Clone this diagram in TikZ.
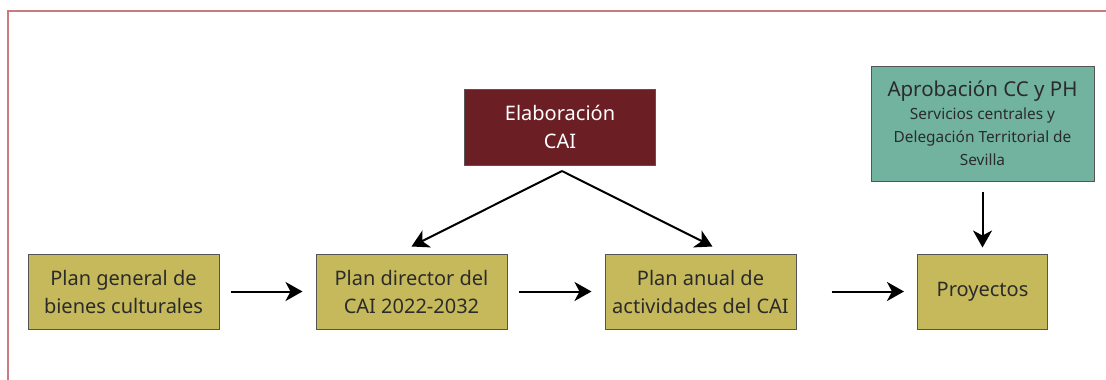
\documentclass[tikz,border=0pt]{standalone}
\usepackage{fontspec}
\setmainfont{Noto Sans}
\usepackage{tikz}
\usetikzlibrary{arrows.meta,positioning,calc}
\usepackage{xcolor}
\definecolor{olive}{HTML}{C6B95B}
\definecolor{wine}{HTML}{6B1E24}
\definecolor{teal}{HTML}{72B3A0}
\definecolor{framered}{HTML}{C97B7E}
\definecolor{txt}{HTML}{2B2B2B}

\begin{document}
\begin{tikzpicture}[
    x=1pt, y=-1pt,
    plan/.style={draw=txt!80, fill=olive, rectangle, minimum height=75pt, minimum width=191pt, align=center, text=txt, font=\fontsize{20}{28}\selectfont, line width=1pt},
    elab/.style={draw=txt!80, fill=wine, rectangle, minimum height=76pt, minimum width=191pt, align=center, text=white, font=\fontsize{20}{28}\selectfont, line width=1pt},
    aprob/.style={draw=txt!80, fill=teal, rectangle, minimum height=115pt, minimum width=223pt, align=center, text=txt, font=\fontsize{15.4}{23}\selectfont, line width=1pt},
    arrow/.style={line width=2pt, -{Stealth[length=17pt, width=19pt, inset=5pt]}}
]
    \useasboundingbox (0,0) rectangle (1106,380);
    \draw [framered, line width=2pt] (8,381) |- (1107,11);

    % Draw nodes
    \node (general) [plan] at (123.5,291.5) {Plan general de\\bienes culturales};
    \node (director) [plan] at (411.5,291.5) {Plan director del\\CAI 2022-2032};
    \node (anual) [plan] at (700.5,291.5) {Plan anual de\\actividades del CAI};
    \node (proyectos) [plan, minimum width=130pt] at (982.5,291.5) {Proyectos};
    \node (elaboracion) [elab] at (560,127) {Elaboración\\CAI};
    \node (aprobacion) [aprob] at (982.5,123.5) {{\fontsize{20.5}{25}\selectfont Aprobación CC y PH}\\Servicios centrales y\\Delegación Territorial de\\Sevilla};
    \coordinate (fork) at (562,171);

    % Draw connections
    \draw [arrow, shorten <=11pt, shorten >=13pt] (general) -- (director);
    \draw [arrow, shorten <=11pt, shorten >=13pt] (director) -- (anual);
    \draw [arrow, shorten <=35pt, shorten >=13pt] (anual) -- (proyectos);
    \draw [arrow, shorten <=10pt, shorten >=6pt] (aprobacion) -- (proyectos);
    \draw [arrow] (fork) -- ([yshift=7pt]director.north);
    \draw [arrow] (fork) -- ([xshift=12pt, yshift=7pt]anual.north);

\end{tikzpicture}
\end{document}
